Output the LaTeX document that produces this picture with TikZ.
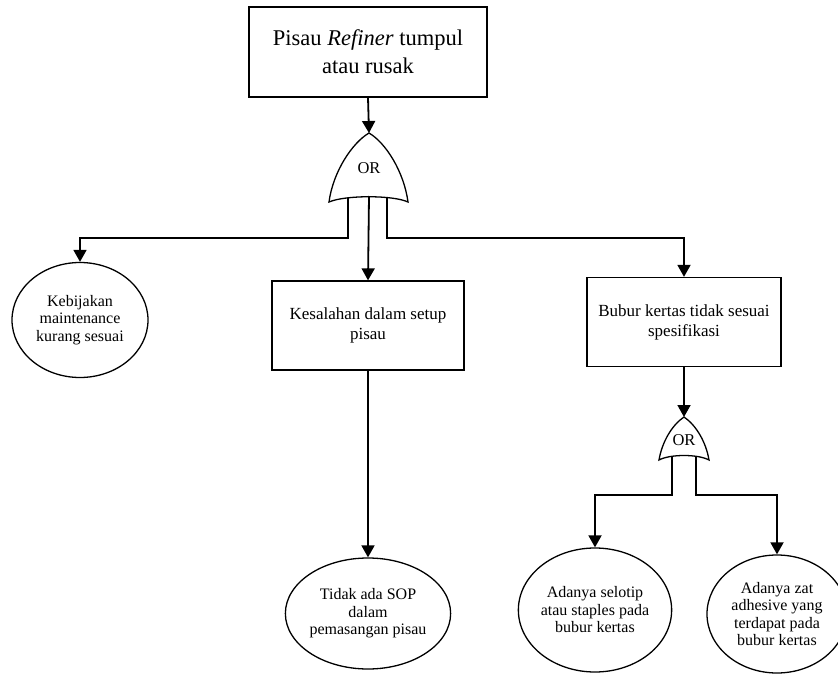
\documentclass[tikz,border=0pt]{standalone}
\usepackage{fontspec}
\setmainfont{Liberation Serif}
\usetikzlibrary{arrows.meta,shapes.geometric}
\begin{document}
\begin{tikzpicture}[x=1pt,y=-1pt,
  box/.style={draw, line width=1.3pt, rectangle, inner sep=0pt, align=center},
  oval/.style={draw, line width=1.3pt, ellipse, inner sep=0pt, align=center,
    font=\fontsize{16}{17.5}\selectfont},
  gateshape/.style={draw, line width=1.3pt, fill=white},
  arr/.style={line width=1.8pt, -{Triangle[width=13pt,length=12pt]}},
  gtext/.style={inner sep=0pt, font=\fontsize{16.5}{18}\selectfont}]
\useasboundingbox (0,0) rectangle (838,674);

% top event
\node[box, minimum width=238pt, minimum height=90pt,
  font=\fontsize{22.5}{28}\selectfont] (top) at (368,52)
  {Pisau \textit{Refiner} tumpul\\atau rusak};

% big OR gate
\coordinate (g1top) at (369,133);
\coordinate (g1l) at (348,198);
\coordinate (g1m) at (369,196);
\coordinate (g1r) at (387,198);
\draw[gateshape] (g1top) .. controls (352,143) and (333,172) .. (329,202)
  .. controls (345,195) and (393,195) .. (408,202)
  .. controls (404,172) and (386,143) .. (g1top) -- cycle;
\node[gtext] (g1) at (369,168) {OR};

% second level
\node[oval, minimum width=136pt, minimum height=115pt] (e1) at (80,320)
  {Kebijakan\\maintenance\\kurang sesuai};
\node[box, minimum width=192pt, minimum height=89pt,
  font=\fontsize{17}{20}\selectfont] (b1) at (368,325.5)
  {Kesalahan dalam setup\\pisau};
\node[box, minimum width=194pt, minimum height=89pt,
  font=\fontsize{17}{20}\selectfont] (b2) at (684,322)
  {Bubur kertas tidak sesuai\\spesifikasi};

\draw[arr] (top.south) -- (g1top);
\draw[arr] (g1l) -- (348,238) -| (e1.north);
\draw[arr] (g1m) -- (b1.north);
\draw[arr] (g1r) -- (387,238) -| (b2.north);

% small OR gate
\coordinate (g2top) at (684,417);
\coordinate (g2l) at (672,457);
\coordinate (g2r) at (696,457);
\draw[gateshape] (g2top) .. controls (672,425) and (662,442) .. (659,460)
  .. controls (670,454) and (698,454) .. (709,460)
  .. controls (706,442) and (696,425) .. (g2top) -- cycle;
\node[gtext] (g2) at (684,440) {OR};

% bottom events
\node[oval, minimum width=138pt, minimum height=111pt] (e2) at (368,613.5)
  {Tidak ada SOP\\dalam\\pemasangan pisau};
\node[oval, minimum width=136pt, minimum height=124pt] (e3) at (595,610)
  {Adanya selotip\\atau staples pada\\bubur kertas};
\node[oval, minimum width=140pt, minimum height=118pt] (e4) at (777,614)
  {Adanya zat\\adhesive yang\\terdapat pada\\bubur kertas};

\draw[arr] (b1.south) -- (e2.north);
\draw[arr] (b2.south) -- (g2top);
\draw[arr] (g2l) -- (672,495) -| (e3.north);
\draw[arr] (g2r) -- (696,495) -| (e4.north);
\end{tikzpicture}
\end{document}
